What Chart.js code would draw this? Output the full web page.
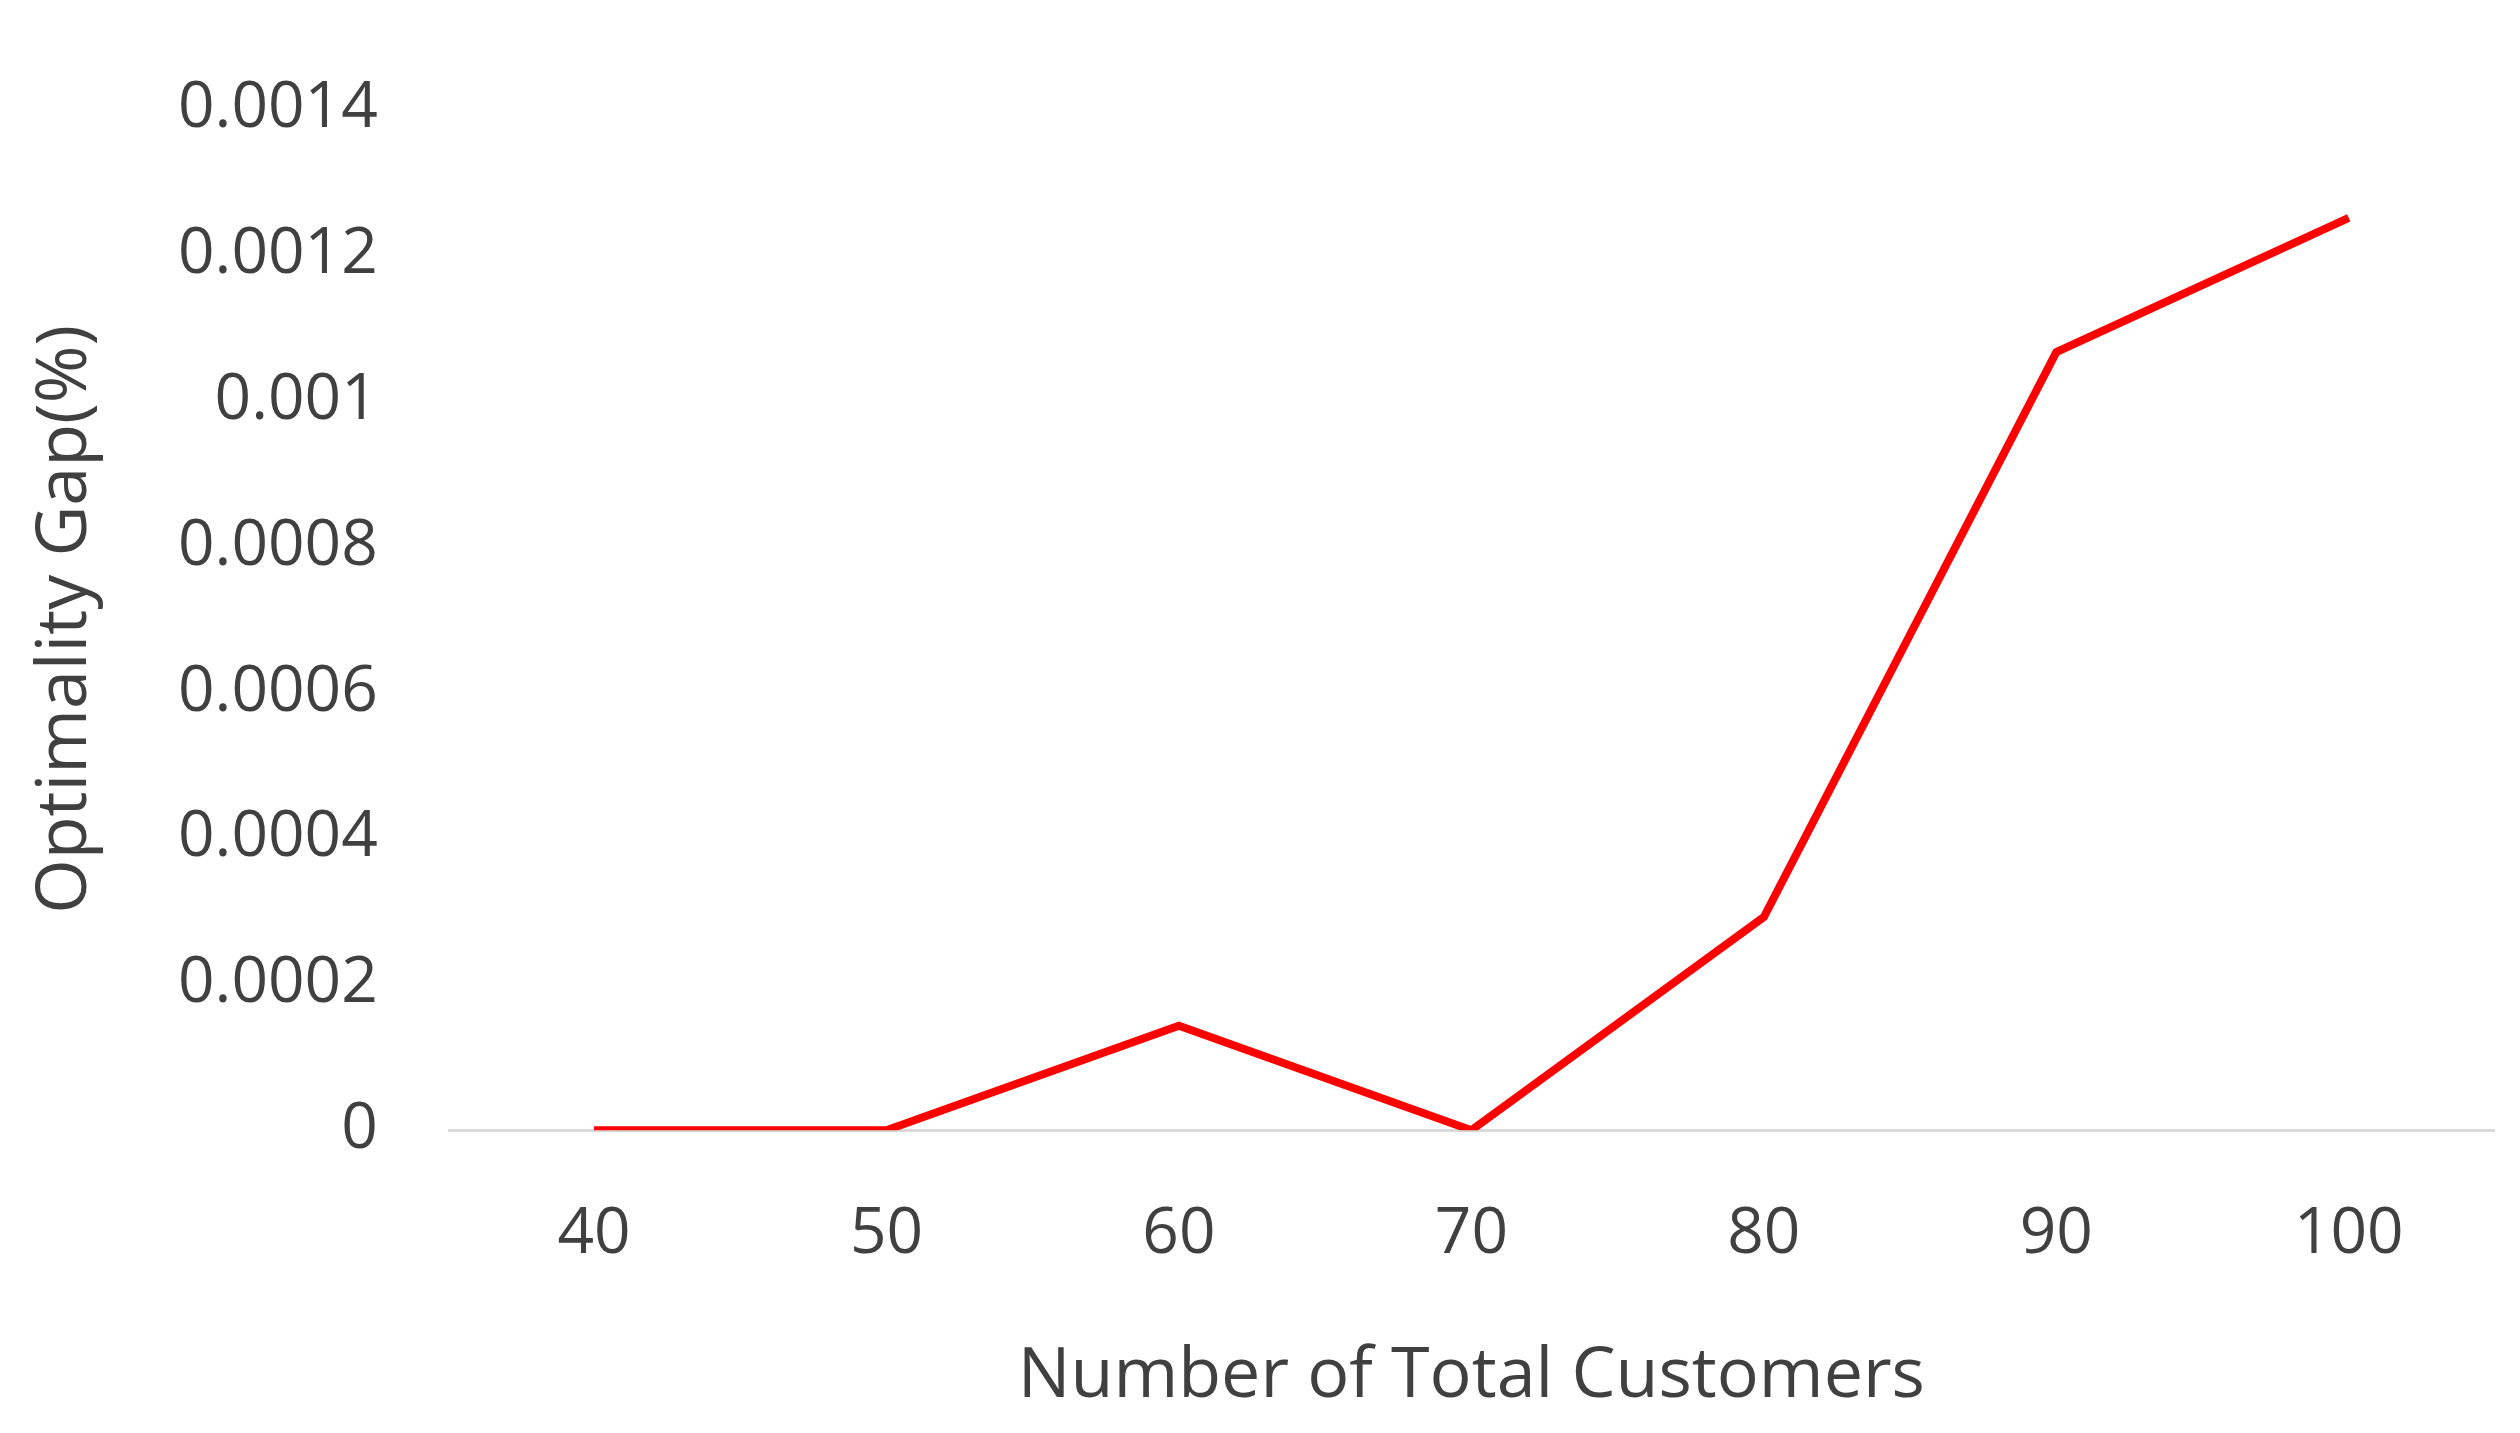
<!DOCTYPE html>
<html><head><meta charset="utf-8">
<script src="https://cdn.jsdelivr.net/npm/chart.js@4"></script>
<style>html,body{margin:0;padding:0;background:#fff}#w{width:2520px;height:1433px}</style>
</head><body><div id="w"><canvas id="c"></canvas></div>
<script>
const categories = ["40","50","60","70","80","90","100"];
const gapValues = [0, 0, 0.000143, 0, 0.000292, 0.001066, 0.00125];
const yTickLabels = {0:"0",0.0002:"0.0002",0.0004:"0.0004",0.0006:"0.0006",0.0008:"0.0008",0.001:"0.001",0.0012:"0.0012",0.0014:"0.0014"};
const font = "'Open Sans', 'Noto Sans', sans-serif";
new Chart(document.getElementById('c'), {
  type: 'line',
  data: { labels: categories, datasets: [{ data: gapValues, borderColor: '#ff0000', borderWidth: 8, pointRadius: 0, tension: 0, fill: false }] },
  options: {
    responsive: true, maintainAspectRatio: false, animation: false,
    layout: { padding: { left: 20, right: 25, top: 0, bottom: 10 } },
    plugins: { legend: { display: false }, tooltip: { enabled: false } },
    scales: {
      x: { offset: true, grid: { display: false }, border: { display: false },
           ticks: { color: '#404040', font: { family: font, size: 64 }, padding: 58 },
           title: { display: true, text: 'Number of Total Customers', color: '#404040', font: { family: font, size: 70 }, padding: { top: 4 } } },
      y: { min: 0, max: 0.0014, border: { display: false },
           grid: { color: ctx => ctx.tick && ctx.tick.value === 0 ? '#d9d9d9' : 'rgba(0,0,0,0)', lineWidth: 3, drawTicks: false },
           ticks: { stepSize: 0.0002, color: '#404040', font: { family: font, size: 64 }, padding: 70,
                    callback: v => { const k = Math.round(v*1e4)/1e4; return yTickLabels[k] ?? ''; } },
           title: { display: true, text: 'Optimality Gap(%)', color: '#404040', font: { family: font, size: 70 }, padding: { bottom: 0 } } }
    }
  }
});
</script></body></html>
